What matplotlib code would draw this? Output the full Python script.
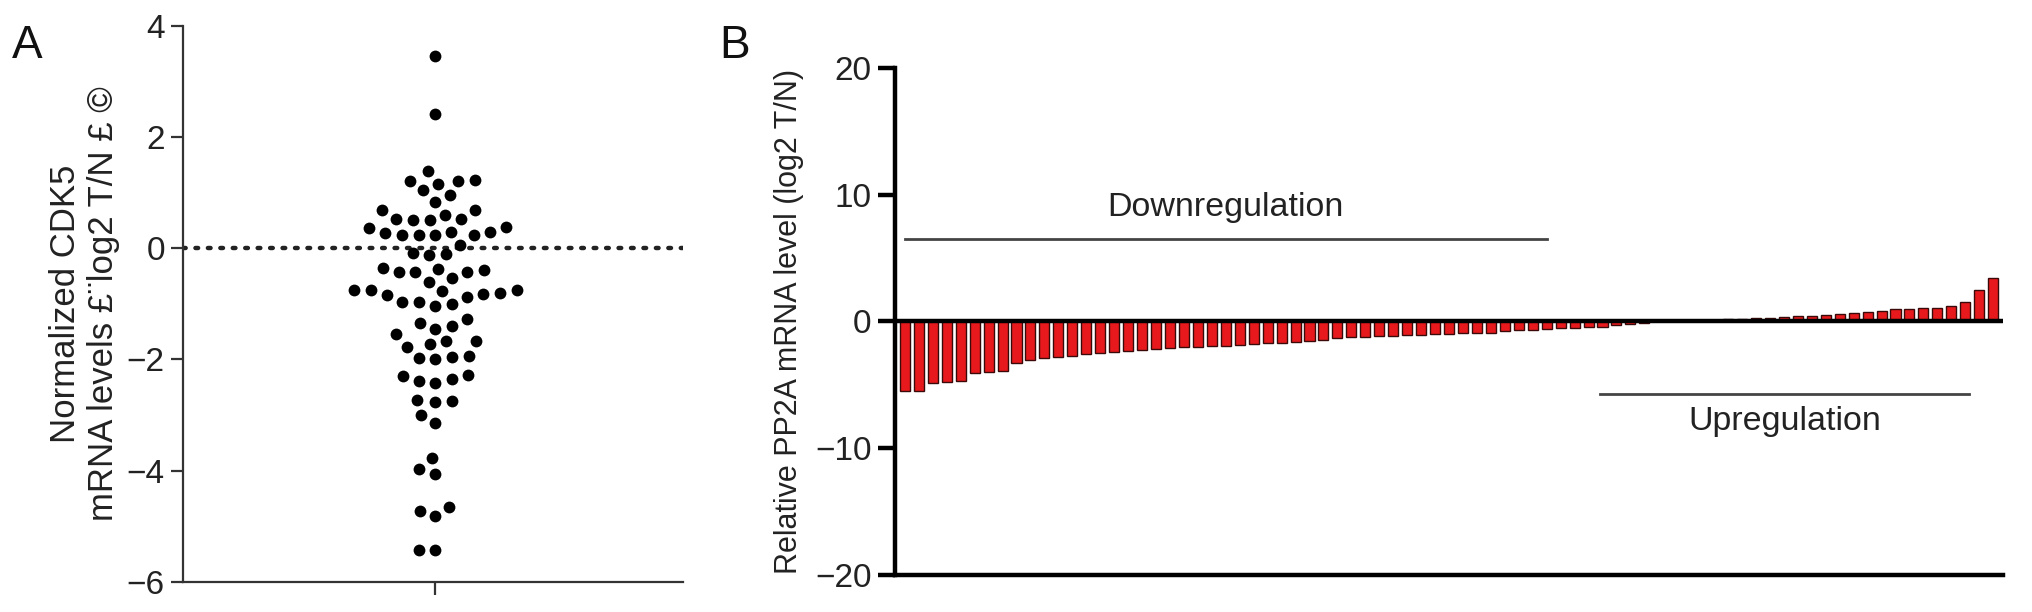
import matplotlib
matplotlib.use('Agg')
import matplotlib.pyplot as plt
import seaborn as sns

plt.rcParams['font.family'] = ['Liberation Sans', 'DejaVu Sans']

# panel A: normalized CDK5 (log2 T/N), one dot per sample
cdk5 = [3.45, 2.41, 1.39, 1.2, 1.16, 1.04, 1.21, 1.23, 0.95, 0.83,
        0.69, 0.69, 0.6, 0.53, 0.5, 0.5, 0.53, 0.39, 0.36, 0.3,
        0.23, 0.23, 0.23, 0.23, 0.27, 0.3, 0.06, -0.08, -0.12, -0.1,
        -0.37, -0.43, -0.43, -0.43, -0.4, -0.35, -0.53, -0.61, -0.75, -0.75,
        -0.8, -0.84, -0.75, -0.87, -0.82, -0.77, -0.96, -1.0, -1.03, -0.96,
        -1.28, -1.35, -1.45, -1.4, -1.55, -1.67, -1.67, -1.77, -1.73, -1.95,
        -2.0, -1.97, -1.93, -2.3, -2.38, -2.42, -2.35, -2.27, -2.72, -2.77,
        -2.75, -3.0, -3.15, -3.77, -4.05, -3.97, -4.65, -4.72, -4.82, -5.42,
        -5.42]

# panel B: relative PP2A mRNA level (log2 T/N), sorted
pp2a = [-5.46, -5.46, -4.85, -4.75, -4.7, -4.1, -4.0, -3.9, -3.25, -3.07,
        -2.85, -2.8, -2.76, -2.55, -2.45, -2.4, -2.33, -2.25,
        -2.15, -2.1, -2.05, -2.0, -1.95, -1.9, -1.85, -1.8, -1.72, -1.68,
        -1.6, -1.53, -1.47, -1.3, -1.25, -1.2, -1.15, -1.12, -1.08, -1.03,
        -1.0, -0.98, -0.95, -0.92, -0.88, -0.75, -0.7, -0.65, -0.6,
        -0.55, -0.5, -0.45, -0.4, -0.3, -0.2, -0.1,
        0.02, 0.05,
        0.1, 0.12, 0.15, 0.18, 0.2, 0.25, 0.3, 0.35, 0.4, 0.45,
        0.5, 0.55, 0.65, 0.75, 0.85, 0.95, 1.0, 1.05, 1.1, 1.2,
        1.5, 2.5, 3.4]

down_span = (0, 46)
down_y = 6.5
up_span = (49.8, 76.3)
up_y = -5.7

fig = plt.figure(figsize=(20.32, 6.12), dpi=100)

# ---- A ----
ax1 = fig.add_axes([0.090, 0.049, 0.246, 0.909])
ax1.set_xlim(-1.0, 0.98)
ax1.set_ylim(-6, 4)
# lay the swarm out with big markers so the dots end up spaced apart,
# then redraw them smaller at the same spots
sns.swarmplot(y=cdk5, ax=ax1, color='black', size=11.5)
ax1.set_xlim(-1.0, 0.98)
fig.canvas.draw()
swarm = ax1.collections[0]
pos = swarm.get_offsets().copy()
swarm.remove()
ax1.scatter(pos[:, 0], pos[:, 1], s=8.5 ** 2, color='black', linewidths=0,
            zorder=3)
ax1.axhline(0, color='#222222', linestyle=(0, (0.6, 2.2)), linewidth=3.2,
            dash_capstyle='round', zorder=0)
ax1.set_xlim(-1.0, 0.98)
ax1.set_ylim(-6, 4)
ax1.set_yticks([-6, -4, -2, 0, 2, 4])
ax1.set_yticklabels(['\u22126', '\u22124', '\u22122', '0', '2', '4'])
ax1.set_xticks([0])
ax1.set_xticklabels([''])
for s in ['top', 'right']:
    ax1.spines[s].set_visible(False)
for s in ['left', 'bottom']:
    ax1.spines[s].set_linewidth(1.6)
    ax1.spines[s].set_color('#333333')
ax1.tick_params(axis='both', length=9, width=1.6, color='#333333',
                labelsize=24, labelcolor='#222222', pad=4)
ax1.set_ylabel('Normalized CDK5\nmRNA levels \u00a3\u00a8log2 T/N \u00a3 \u00a9',
               fontsize=25, color='#222222', labelpad=5, linespacing=1.2)

# ---- B ----
ax2 = fig.add_axes([0.4405, 0.0605, 0.5452, 0.8285])
ax2.bar(range(len(pp2a)), pp2a, width=0.72, color='#e8191c',
        edgecolor='#3a0a0a', linewidth=1.0, zorder=2)
ax2.axhline(0, color='black', linewidth=3.2, zorder=3)
ax2.set_xlim(-0.7, len(pp2a) - 0.3)
ax2.set_ylim(-20, 20)
ax2.set_yticks([-20, -10, 0, 10, 20])
ax2.set_yticklabels(['\u221220', '\u221210', '0', '10', '20'])
ax2.set_xticks([])
for s in ['top', 'right']:
    ax2.spines[s].set_visible(False)
for s in ['left', 'bottom']:
    ax2.spines[s].set_linewidth(3.2)
    ax2.spines[s].set_color('black')
ax2.tick_params(axis='y', length=12, width=3.2, labelsize=24,
                labelcolor='#222222', pad=5)
ax2.set_ylabel('Relative PP2A mRNA level (log2 T/N)', fontsize=22,
               color='#222222', labelpad=8)

ax2.plot(down_span, [down_y, down_y], color='#444444', linewidth=2)
ax2.text(sum(down_span) / 2, down_y + 1.3, 'Downregulation', ha='center',
         va='bottom', fontsize=24.5, color='#222222')
ax2.plot(up_span, [up_y, up_y], color='#444444', linewidth=2)
ax2.text(sum(up_span) / 2, up_y - 1.0, 'Upregulation', ha='center',
         va='top', fontsize=24.5, color='#222222')

fig.text(0.006, 0.96, 'A', fontsize=33, va='top', ha='left', color='#111111')
fig.text(0.354, 0.96, 'B', fontsize=33, va='top', ha='left', color='#111111')

fig.savefig('out.png', dpi=100)
